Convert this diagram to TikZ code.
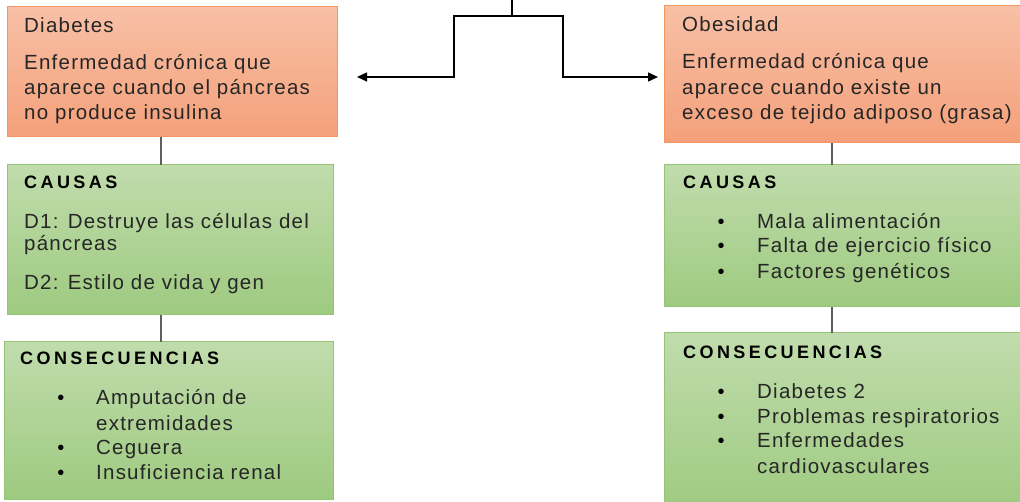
\documentclass[tikz,border=0pt]{standalone}
\usepackage{fontspec}
\setmainfont{Liberation Sans}
\newfontfamily\bodyfont[LetterSpace=6]{Liberation Sans}
\newfontfamily\headfont[LetterSpace=19]{Liberation Sans}
\usetikzlibrary{arrows.meta}
\definecolor{orTop}{RGB}{248,192,166}
\definecolor{orBot}{RGB}{244,160,122}
\definecolor{orLine}{RGB}{242,150,98}
\definecolor{grTop}{RGB}{192,220,172}
\definecolor{grBot}{RGB}{158,202,128}
\definecolor{grLine}{RGB}{150,196,118}
\definecolor{connGray}{RGB}{95,95,95}
\tikzset{
  orbox/.style={draw=orLine, line width=1pt, top color=orTop, bottom color=orBot},
  grbox/.style={draw=grLine, line width=1pt, top color=grTop, bottom color=grBot},
  txt/.style={anchor=base west, inner sep=0pt, text=black!85, font=\bodyfont\fontsize{20.5}{24}\selectfont},
  head/.style={anchor=base west, inner sep=0pt, text=black, font=\headfont\bfseries\fontsize{18}{22}\selectfont},
  bul/.style={anchor=base, inner sep=0pt, text=black, font=\fontsize{20}{24}\selectfont},
  conn/.style={draw=connGray, line width=1.5pt},
  arr/.style={draw=black, line width=1.4pt, -{Triangle[length=10pt,width=9pt]}}
}
\begin{document}
\begin{tikzpicture}[x=1pt,y=-1pt]
\useasboundingbox (0,0) rectangle (1020,502);
% boxes
\path[orbox] (7,7) rectangle (337,137);
\node[inner sep=0pt, minimum width=330pt, minimum height=130pt, anchor=north west] (diab) at (7,7) {};
\path[orbox] (664,6) rectangle (1030,143);
\node[inner sep=0pt, minimum width=366pt, minimum height=137pt, anchor=north west] (obes) at (664,6) {};
\path[grbox] (7,165) rectangle (333,315);
\node[inner sep=0pt, minimum width=326pt, minimum height=150pt, anchor=north west] (causL) at (7,165) {};
\path[grbox] (664,165) rectangle (1030,307);
\node[inner sep=0pt, minimum width=366pt, minimum height=142pt, anchor=north west] (causR) at (664,165) {};
\path[grbox] (4,342) rectangle (333,499);
\node[inner sep=0pt, minimum width=329pt, minimum height=157pt, anchor=north west] (consL) at (4,342) {};
\path[grbox] (664,333) rectangle (1030,515);
\node[inner sep=0pt, minimum width=366pt, minimum height=182pt, anchor=north west] (consR) at (664,333) {};

% connectors
\coordinate (linkL) at (161,0);
\coordinate (linkR) at (832,0);
\draw[conn] (diab.south -| linkL) -- (causL.north -| linkL);
\draw[conn] (causL.south -| linkL) -- (consL.north -| linkL);
\draw[conn] (obes.south -| linkR) -- (causR.north -| linkR);
\draw[conn] (causR.south -| linkR) -- (consR.north -| linkR);

% top arrows
\coordinate (topin) at (512,0);
\coordinate (bl) at (454,16);
\coordinate (br) at (563,16);
\coordinate (la) at (357,77);
\coordinate (ra) at (658,77);
\draw[arr] (topin) |- (bl) |- (la);
\draw[arr] (topin |- br) -- (br) |- (ra);

% Diabetes text
\node[txt] (d0) at (24,33) {Diabetes};
\node[txt] (d1) at (24,70) {Enfermedad crónica que};
\node[txt] (d2) at (24,95) {aparece cuando el páncreas};
\node[txt] (d3) at (24,120) {no produce insulina};

% Obesidad text
\node[txt] (o0) at (682,32) {Obesidad};
\node[txt] (o1) at (682,69) {Enfermedad crónica que};
\node[txt] (o2) at (682,94.5) {aparece cuando existe un};
\node[txt] (o3) at (682,120) {exceso de tejido adiposo (grasa)};

% Causas left
\node[head] (cl0) at (24,188.5) {CAUSAS};
\node[txt] (cl1) at (24,228.5) {D1: Destruye las células del};
\node[txt] (cl2) at (24,251) {páncreas};
\node[txt] (cl3) at (24,289.5) {D2: Estilo de vida y gen};

% Causas right
\node[head] (cr0) at (683,188.5) {CAUSAS};
\node[bul] (crb1) at (721,228.5) {•};
\node[txt] (cr1) at (757,228.5) {Mala alimentación};
\node[bul] (crb2) at (721,253) {•};
\node[txt] (cr2) at (757,253) {Falta de ejercicio físico};
\node[bul] (crb3) at (721,278.5) {•};
\node[txt] (cr3) at (757,278.5) {Factores genéticos};

% Consecuencias left
\node[head] (kl0) at (20,365) {CONSECUENCIAS};
\node[bul] (klb1) at (61,405) {•};
\node[txt] (kl1) at (96,405) {Amputación de};
\node[txt] (kl2) at (96,430) {extremidades};
\node[bul] (klb3) at (61,454) {•};
\node[txt] (kl3) at (96,454) {Ceguera};
\node[bul] (klb4) at (61,479) {•};
\node[txt] (kl4) at (96,479) {Insuficiencia renal};

% Consecuencias right
\node[head] (kr0) at (683,358.5) {CONSECUENCIAS};
\node[bul] (krb1) at (721,398.5) {•};
\node[txt] (kr1) at (757,398.5) {Diabetes 2};
\node[bul] (krb2) at (721,423.5) {•};
\node[txt] (kr2) at (757,423.5) {Problemas respiratorios};
\node[bul] (krb3) at (721,447.5) {•};
\node[txt] (kr3) at (757,447.5) {Enfermedades};
\node[txt] (kr4) at (757,473) {cardiovasculares};
\end{tikzpicture}
\end{document}
